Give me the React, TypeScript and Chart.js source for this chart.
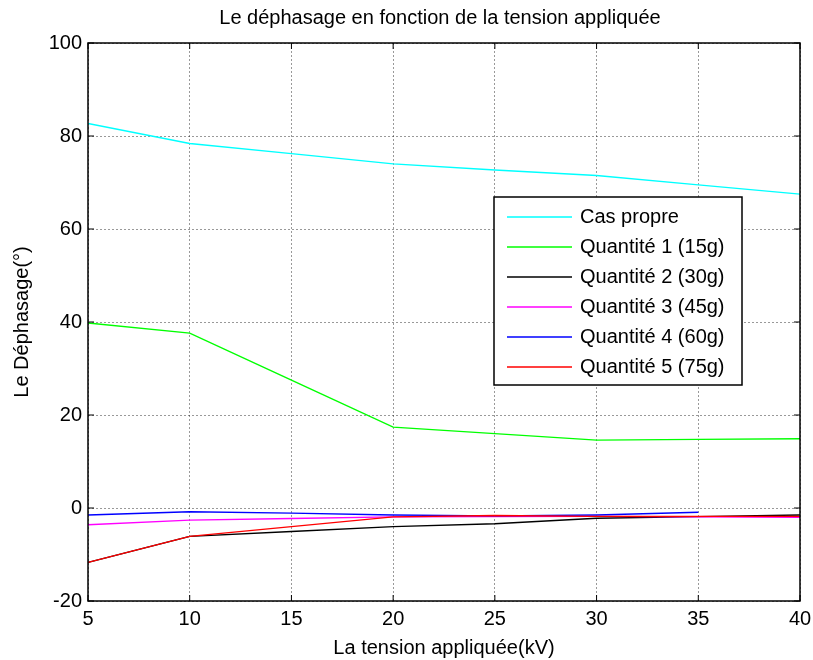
import React, { useEffect, useRef } from "react";
import { Chart, registerables } from "chart.js";

Chart.register(...registerables);

const tensionKV = [5, 10, 15, 20, 25, 30, 35, 40];
const casPropre = [82.7, 78.4, 76.2, 74.0, 72.7, 71.5, 69.5, 67.5];
const quantite1 = [39.8, 37.6, 27.5, 17.4, 16.0, 14.6, 14.75, 14.9];
const quantite2 = [-11.7, -6.1, -5.05, -4.0, -3.4, -2.2, -1.85, -1.5];
const quantite3 = [-3.6, -2.6, -2.25, -1.9, -1.85, -1.8, -1.9, -2.0];
const quantite4 = [-1.5, -0.8, -1.1, -1.5, -1.7, -1.5, -0.9, null];
const quantite5 = [-11.7, -6.1, -4.0, -1.9, -1.6, -1.8, -1.8, -1.8];

const seriesLabels = [
  "Cas propre",
  "Quantité 1 (15g)",
  "Quantité 2 (30g)",
  "Quantité 3 (45g)",
  "Quantité 4 (60g)",
  "Quantité 5 (75g)",
];
const seriesColors = ["#00ffff", "#00ff00", "#000000", "#ff00ff", "#0000ff", "#ff0000"];
const seriesValues = [casPropre, quantite1, quantite2, quantite3, quantite4, quantite5];

const titleText = "Le déphasage en fonction de la tension appliquée";
const xTitle = "La tension appliquée(kV)";
const yTitle = "Le Déphasage(°)";

const FONT = "'Liberation Sans', Arial, Helvetica, sans-serif";

const framePlugin = {
  id: "matlabFrame",
  afterDraw(chart: any) {
    const { ctx, chartArea } = chart;
    const { left, right, top, bottom } = chartArea;
    const xs = chart.scales.x;
    const ys = chart.scales.y;
    ctx.save();
    // title
    ctx.fillStyle = "#000";
    ctx.font = `20px ${FONT}`;
    ctx.textAlign = "center";
    ctx.textBaseline = "middle";
    ctx.fillText(titleText, (left + right) / 2 - 4, 18);

    // frame
    ctx.strokeStyle = "#000";
    ctx.lineWidth = 1.5;
    ctx.setLineDash([]);
    ctx.strokeRect(left, top, right - left, bottom - top);

    // inward ticks
    ctx.lineWidth = 1;
    const tl = 6;
    ctx.beginPath();
    xs.ticks.forEach((t: any) => {
      const px = xs.getPixelForValue(t.value);
      ctx.moveTo(px, bottom);
      ctx.lineTo(px, bottom - tl);
      ctx.moveTo(px, top);
      ctx.lineTo(px, top + tl);
    });
    ys.ticks.forEach((t: any) => {
      const py = ys.getPixelForValue(t.value);
      ctx.moveTo(left, py);
      ctx.lineTo(left + tl, py);
      ctx.moveTo(right, py);
      ctx.lineTo(right - tl, py);
    });
    ctx.stroke();

    // legend box
    const bx = left + 406;
    const by = top + 154;
    const bw = 248;
    const bh = 188;
    ctx.fillStyle = "#fff";
    ctx.fillRect(bx, by, bw, bh);
    ctx.lineWidth = 1.5;
    ctx.strokeStyle = "#000";
    ctx.strokeRect(bx, by, bw, bh);
    ctx.font = `20px ${FONT}`;
    ctx.textAlign = "left";
    ctx.textBaseline = "middle";
    chart.data.datasets.forEach((ds: any, i: number) => {
      const ry = by + 20 + i * 30;
      ctx.strokeStyle = ds.borderColor;
      ctx.lineWidth = 1.5;
      ctx.beginPath();
      ctx.moveTo(bx + 13, ry);
      ctx.lineTo(bx + 78, ry);
      ctx.stroke();
      ctx.fillStyle = "#000";
      ctx.fillText(ds.label, bx + 86, ry);
    });
    ctx.restore();
  },
};

export default function App() {
  const canvasRef = useRef<HTMLCanvasElement | null>(null);

  useEffect(() => {
    if (!canvasRef.current) return;
    const datasets = seriesValues.map((vals, i) => ({
      label: seriesLabels[i],
      data: tensionKV
        .map((x, j) => ({ x, y: vals[j] }))
        .filter((p) => p.y !== null),
      borderColor: seriesColors[i],
      backgroundColor: seriesColors[i],
      borderWidth: 1.4,
      pointRadius: 0,
      tension: 0,
      fill: false,
      order: seriesValues.length - i,
    }));

    const chart = new Chart(canvasRef.current, {
      type: "line",
      data: { datasets: datasets as any },
      options: {
        animation: false,
        responsive: false,
        maintainAspectRatio: false,
        layout: { padding: { left: 0, right: 13, top: 43, bottom: 0 } },
        plugins: {
          legend: { display: false },
          title: { display: false },
          tooltip: { enabled: false },
        },
        scales: {
          x: {
            type: "linear",
            min: 5,
            max: 40,
            ticks: {
              stepSize: 5,
              color: "#000",
              font: { family: FONT, size: 20 },
              padding: 6,
              maxRotation: 0,
            },
            grid: { color: "rgba(0,0,0,0.4)", lineWidth: 1, drawTicks: false },
            border: { display: false, dash: [2, 2] },
            title: {
              display: true,
              text: xTitle,
              color: "#000",
              font: { family: FONT, size: 20 },
              padding: { top: 0, bottom: 0 },
            },
            afterFit: (s: any) => {
              s.height = 59;
              s.paddingLeft = 0;
              s.paddingRight = 0;
            },
          },
          y: {
            type: "linear",
            min: -20,
            max: 100,
            ticks: {
              stepSize: 20,
              color: "#000",
              font: { family: FONT, size: 20 },
              padding: 6,
            },
            grid: { color: "rgba(0,0,0,0.4)", lineWidth: 1, drawTicks: false },
            border: { display: false, dash: [2, 2] },
            title: {
              display: true,
              text: yTitle,
              color: "#000",
              font: { family: FONT, size: 20 },
              padding: { top: 10, bottom: 0 },
            },
            afterFit: (s: any) => {
              s.width = 88;
              s.paddingTop = 0;
              s.paddingBottom = 0;
            },
          },
        },
      },
      plugins: [framePlugin],
    });
    return () => chart.destroy();
  }, []);

  return (
    <div style={{ position: "absolute", left: 0, top: 0, width: 813, height: 660, background: "#fff" }}>
      <canvas ref={canvasRef} width={813} height={660} style={{ display: "block" }} />
    </div>
  );
}
